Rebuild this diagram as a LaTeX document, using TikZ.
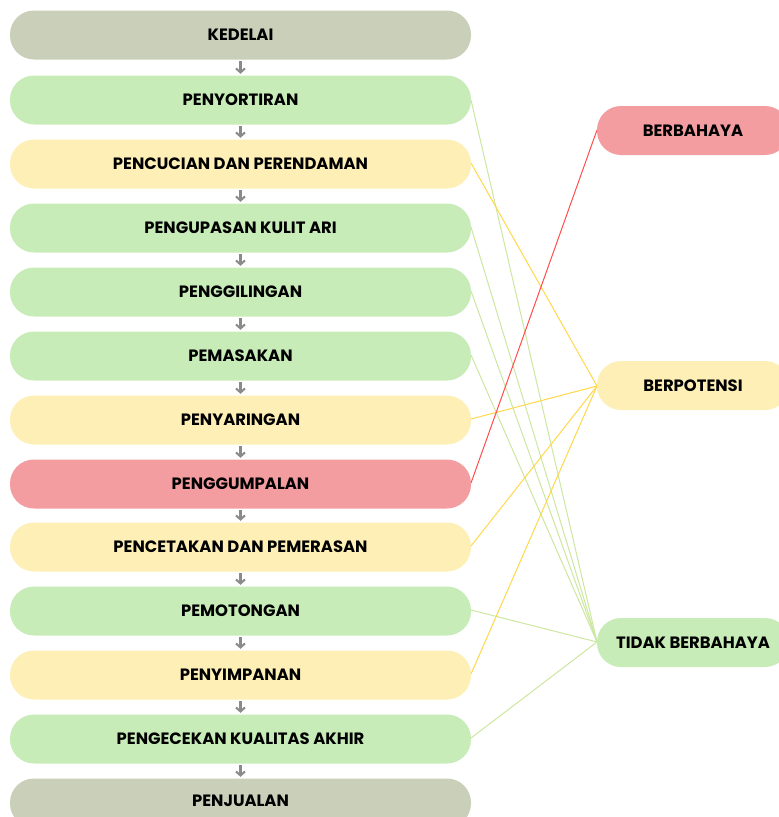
\documentclass[tikz,border=0pt]{standalone}
\usepackage{fontspec}
\setmainfont{Poppins}[UprightFont=* Bold]
\usetikzlibrary{arrows.meta}
\definecolor{cgrey}{HTML}{CACFB9}
\definecolor{cgreen}{HTML}{C7ECB8}
\definecolor{cyellow}{HTML}{FDEFB5}
\definecolor{cred}{HTML}{F49DA0}
\definecolor{lgreen}{HTML}{CDE6A0}
\definecolor{lyellow}{HTML}{FFD84A}
\definecolor{lred}{HTML}{FF4D4D}
\definecolor{agrey}{HTML}{8A8A8A}
\begin{document}
\begin{tikzpicture}[x=1pt,y=-1pt,
  stepbox/.style={rounded corners=24pt,minimum width=461pt,minimum height=49pt,inner sep=0pt,font=\fontsize{16.4}{19}\selectfont},
  catbox/.style={rounded corners=24pt,minimum width=192pt,minimum height=49pt,inner sep=0pt,font=\fontsize{16.4}{19}\selectfont},
  flow/.style={draw=agrey,line width=2.2pt,-{Straight Barb[length=4pt,width=9pt,line width=2pt]}},
  lg/.style={draw=lgreen,line width=1pt},
  ly/.style={draw=lyellow,line width=1pt},
  lr/.style={draw=lred,line width=1pt}]
\useasboundingbox (0,0) rectangle (779,817);
\begin{scope}
\clip (0,0) rectangle (779,817);
% connectors
\coordinate (tb) at (597,642);
\coordinate (bp) at (597,386);
\coordinate (bb) at (597,130);
\foreach \y in {100,227,291,355,610,738} \draw[lg] (471,\y) -- (tb);
\foreach \y in {163,419,546,674} \draw[ly] (471,\y) -- (bp);
\draw[lr] (471,483) -- (bb);
% step boxes
\node[stepbox,fill=cgrey] (s0) at (240.5,35) {KEDELAI};
\node[stepbox,fill=cgreen] (s1) at (240.5,100) {PENYORTIRAN};
\node[stepbox,fill=cyellow] (s2) at (240.5,164) {PENCUCIAN DAN PERENDAMAN};
\node[stepbox,fill=cgreen] (s3) at (240.5,228) {PENGUPASAN KULIT ARI};
\node[stepbox,fill=cgreen] (s4) at (240.5,292) {PENGGILINGAN};
\node[stepbox,fill=cgreen] (s5) at (240.5,356) {PEMASAKAN};
\node[stepbox,fill=cyellow] (s6) at (240.5,420) {PENYARINGAN};
\node[stepbox,fill=cred] (s7) at (240.5,484) {PENGGUMPALAN};
\node[stepbox,fill=cyellow] (s8) at (240.5,547) {PENCETAKAN DAN PEMERASAN};
\node[stepbox,fill=cgreen] (s9) at (240.5,611) {PEMOTONGAN};
\node[stepbox,fill=cyellow] (s10) at (240.5,675) {PENYIMPANAN};
\node[stepbox,fill=cgreen] (s11) at (240.5,739) {PENGECEKAN KUALITAS AKHIR};
\node[stepbox,fill=cgrey,text depth=4pt] (s12) at (240.5,803) {PENJUALAN};
% category boxes
\node[catbox,fill=cred] (c1) at (693,130.5) {BERBAHAYA};
\node[catbox,fill=cyellow] (c2) at (693,385.5) {BERPOTENSI};
\node[catbox,fill=cgreen] (c3) at (693,642.5) {TIDAK BERBAHAYA};
% flow arrows
\foreach \a/\b in {s0/s1,s1/s2,s2/s3,s3/s4,s4/s5,s5/s6,s6/s7,s7/s8,s8/s9,s9/s10,s10/s11,s11/s12}
  \draw[flow] ([yshift=-1.5pt]\a.south) -- ([yshift=1.5pt]\b.north);
\end{scope}
\end{tikzpicture}
\end{document}
